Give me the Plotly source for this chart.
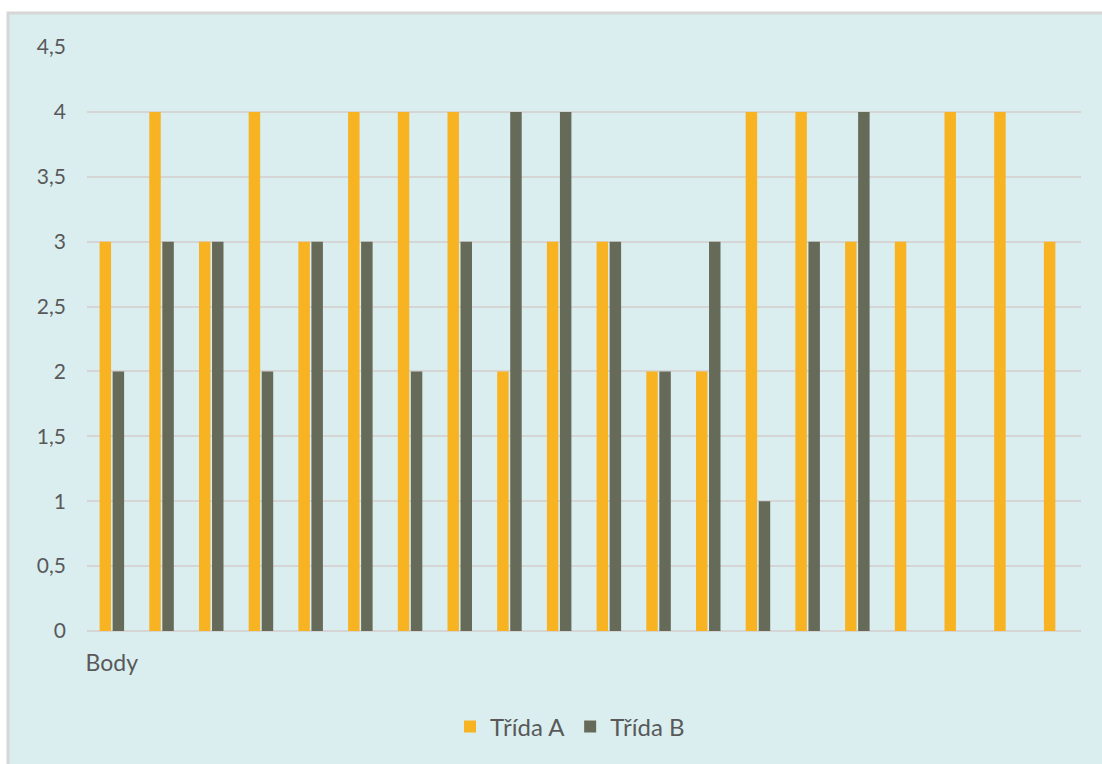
import plotly.graph_objects as go

categories = [f"c{i}" for i in range(1, 21)]
tick_labels = ["Body"]
class_a = [3, 4, 3, 4, 3, 4, 4, 4, 2, 3, 3, 2, 2, 4, 4, 3, 3, 4, 4, 3]
class_b = [2, 3, 3, 2, 3, 3, 2, 3, 4, 4, 3, 2, 3, 1, 3, 4, None, None, None, None]
y_ticks = [0, 0.5, 1, 1.5, 2, 2.5, 3, 3.5, 4, 4.5]
series_names = ["Třída A", "Třída B"]

W, H = 1102, 764
L, R, T, B = 87, 21, 47, 133
pw, ph = W - L - R, H - T - B

def px_x(p):
    return (p - L) / pw

def px_y(p):
    return (H - B - p) / ph

font_family = "Lato, 'Open Sans', sans-serif"
text_color = "#595959"
bg = "#DAEEF0"

fig = go.Figure()
fig.add_trace(go.Bar(x=categories, y=class_a, name=series_names[0],
                     marker=dict(color="#F8B323", line=dict(width=0))))
fig.add_trace(go.Bar(x=categories, y=class_b, name=series_names[1],
                     marker=dict(color="#666A59", line=dict(width=0))))

fig.update_layout(
    width=W, height=H,
    margin=dict(l=L, r=R, t=T, b=B),
    paper_bgcolor="white",
    plot_bgcolor=bg,
    separators=", ",
    barmode="group",
    bargap=0.475,
    bargroupgap=0.12,
    font=dict(family=font_family, size=21, color=text_color),
    showlegend=True,
    legend=dict(orientation="h", x=px_x(570), xanchor="center",
                y=px_y(727), yanchor="middle",
                font=dict(size=24, color=text_color),
                bgcolor="rgba(0,0,0,0)", itemwidth=30),
    shapes=[dict(type="rect", xref="paper", yref="paper",
                 x0=px_x(8), x1=px_x(W + 10), y0=px_y(H + 10), y1=px_y(13),
                 fillcolor=bg, line=dict(color="#D6D6D6", width=3),
                 layer="below")],
)

fig.update_xaxes(
    type="category",
    categoryorder="array", categoryarray=categories,
    tickmode="array", tickvals=[categories[0]], ticktext=tick_labels,
    showgrid=False, showline=False, zeroline=False, ticks="",
    ticklabelstandoff=16,
    tickfont=dict(size=23, color=text_color),
)
fig.update_yaxes(
    range=[0, 4.5],
    tickmode="array", tickvals=y_ticks,
    showgrid=True, gridcolor="#D5D5D5", gridwidth=2,
    zeroline=True, zerolinecolor="#D5D5D5", zerolinewidth=2,
    showline=False, ticks="",
    ticklabelstandoff=20,
    tickfont=dict(size=21, color=text_color),
)

fig.write_html(
    "out.html",
    config={"displayModeBar": False},
    post_script="document.body.style.margin='0';document.body.style.overflow='hidden';",
)
